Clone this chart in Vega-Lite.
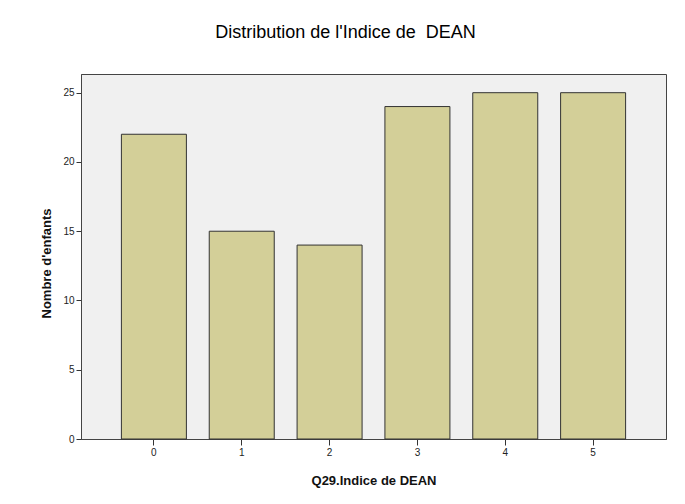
{
  "$schema": "https://vega.github.io/schema/vega-lite/v6.json",
  "autosize": "none",
  "width": 585,
  "height": 365,
  "padding": {"left": 81, "top": 74, "right": 19, "bottom": 65},
  "background": "white",
  "title": {
    "text": "Distribution de l'Indice de\u00a0 DEAN",
    "font": "Liberation Sans",
    "fontSize": 18,
    "fontWeight": "normal",
    "color": "#000000",
    "anchor": "middle",
    "baseline": "alphabetic",
    "dx": -28,
    "offset": 18
  },
  "data": {
    "values": [
      {"indice": "0", "n": 22},
      {"indice": "1", "n": 15},
      {"indice": "2", "n": 14},
      {"indice": "3", "n": 24},
      {"indice": "4", "n": 25},
      {"indice": "5", "n": 25}
    ]
  },
  "mark": {"type": "bar", "fill": "#d3cf98", "stroke": "#333333", "strokeWidth": 1},
  "encoding": {
    "x": {
      "field": "indice",
      "type": "ordinal",
      "sort": null,
      "title": "Q29.Indice de DEAN",
      "scale": {"paddingInner": 0.26, "paddingOuter": 0.46},
      "axis": {
        "labelAngle": 0,
        "labelFont": "Liberation Sans",
        "labelFontSize": 10,
        "labelColor": "#222222",
        "labelPadding": 2,
        "tickSize": 6,
        "tickColor": "#333333",
        "domainColor": "#444444",
        "titleFont": "Liberation Sans",
        "titleFontSize": 13,
        "titleFontWeight": "bold",
        "titleColor": "#111111",
        "titlePadding": 17
      }
    },
    "y": {
      "field": "n",
      "type": "quantitative",
      "title": "Nombre d'enfants",
      "scale": {"domain": [0, 26.35], "nice": false},
      "axis": {
        "values": [0, 5, 10, 15, 20, 25],
        "grid": false,
        "labelFont": "Liberation Sans",
        "labelFontSize": 10,
        "labelColor": "#222222",
        "labelPadding": 2,
        "tickSize": 5,
        "tickColor": "#333333",
        "domainColor": "#444444",
        "titleFont": "Liberation Sans",
        "titleFontSize": 13,
        "titleFontWeight": "bold",
        "titleColor": "#111111",
        "titlePadding": 9,
        "titleY": 189
      }
    }
  },
  "config": {
    "view": {"fill": "#f0f0f0", "stroke": "#444444", "strokeWidth": 1}
  }
}
